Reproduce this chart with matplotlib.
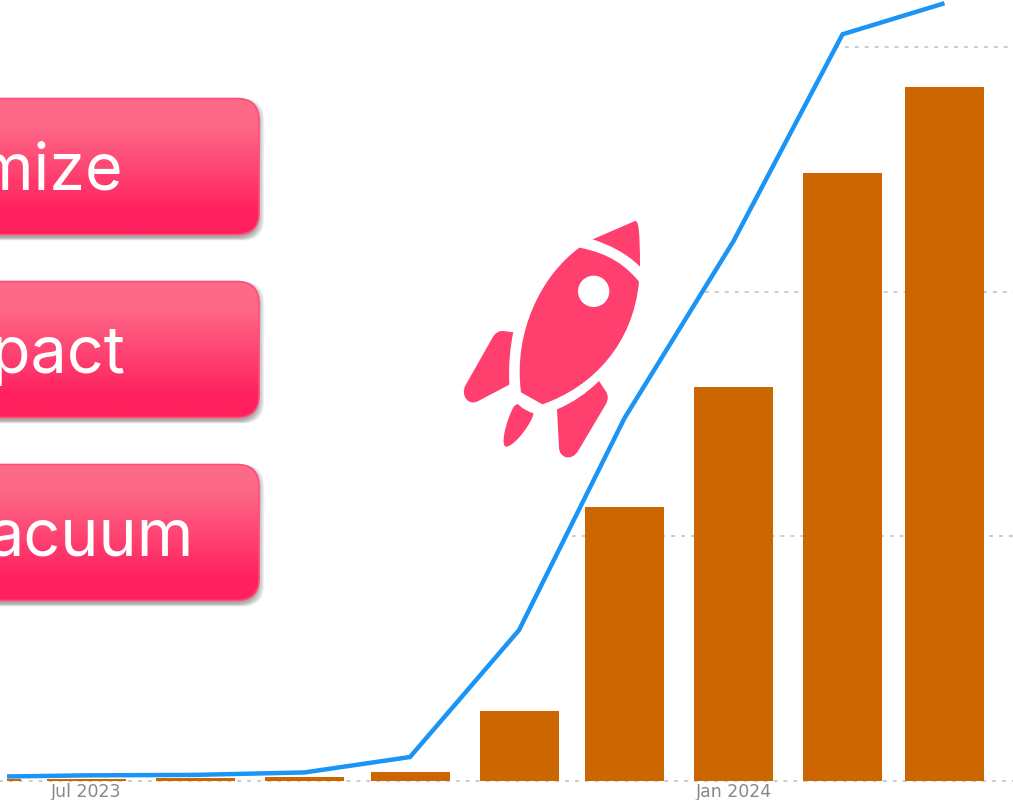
import numpy as np
import pandas as pd
import matplotlib.pyplot as plt
import matplotlib.dates as mdates
from matplotlib.patches import FancyBboxPatch, PathPatch, Circle
from matplotlib.path import Path

months = pd.to_datetime(["2023-06-01", "2023-07-01", "2023-08-01", "2023-09-01", "2023-10-01",
                         "2023-11-01", "2023-12-01", "2024-01-01", "2024-02-01", "2024-03-01"])
bar_values = [0.6, 0.8, 1.2, 1.6, 3.5, 28.4, 111.9, 160.9, 248.5, 283.6]
line_values = [1.5, 2.1, 2.3, 3.3, 9.6, 61.5, 148.2, 220.6, 305.2, 317.9]
grid_levels = [0, 100, 200, 300]
grid_starts = pd.to_datetime(["2023-06-01", "2023-11-16", "2023-12-24", "2024-01-30"])
tick_dates = pd.to_datetime(["2023-07-01", "2024-01-01"])
tick_labels = ["Jul 2023", "Jan 2024"]
button_labels = ["mize", "pact", "acuum"]
button_tops = [98.5, 281.5, 464.5]
label_rights = [123, 125, 194]

W, H = 1013, 800
PINK = "#ff3f6e"


def zoomed(points):
    """Rocket outline was sketched at 3x, scale it down to canvas pixels."""
    return [(450 + x / 3, 210 + y / 3) for x, y in points]


def draw_shape(ax, start, segments):
    """Closed bezier outline: each segment is a list of 1 (line) or 3 (curve) points."""
    verts, codes = [start], [Path.MOVETO]
    for seg in segments:
        verts += seg
        codes += [Path.LINETO] if len(seg) == 1 else [Path.CURVE4] * 3
    verts = zoomed(verts + [start])
    codes.append(Path.CLOSEPOLY)
    ax.add_patch(PathPatch(Path(verts, codes), fc=PINK, ec="none", zorder=5))


def draw_button(ax, top, label, right_edge):
    left, right, height = -40, 259, 136
    # soft shadow, stacked translucent boxes
    for grow in np.linspace(6, 0, 7):
        ax.add_patch(FancyBboxPatch((left, top + 3 - grow / 2), right - left - 1 + grow, height + grow,
                                    boxstyle="round,pad=0,rounding_size=22", fc="#555555", ec="none",
                                    alpha=0.09, zorder=1))
    box = FancyBboxPatch((left, top), right - left, height, boxstyle="round,pad=0,rounding_size=22",
                         fc="none", ec="#ff4d78", lw=1.2, zorder=3)
    ax.add_patch(box)
    stops = np.interp(np.linspace(0, 1, 136), [0, 0.2, 0.85, 1], [0, 0.05, 1, 1])
    top_col, bot_col = np.array([253, 108, 137]) / 255, np.array([255, 32, 94]) / 255
    grad = top_col[None, :] * (1 - stops[:, None]) + bot_col[None, :] * stops[:, None]
    img = ax.imshow(grad[:, None, :], extent=(left, right, top + height, top), aspect="auto", zorder=2,
                    interpolation="bilinear")
    img.set_clip_path(box)
    ax.text(right_edge, top + 91, label, ha="right", va="baseline", color="white", family="Inter",
            fontsize=46.5, fontweight="normal", zorder=4)


fig = plt.figure(figsize=(W / 100, H / 100), dpi=100)

# chart axes, dates on x, baseline sits at y=780.5 px
ax = fig.add_axes([7 / W, (H - 780.5) / H, (W - 7) / W, 780.5 / H])
px_per_day = 647 / 184
jul = mdates.date2num(tick_dates[0])
ax.set_xlim(jul - 79.5 / px_per_day, jul + 926.5 / px_per_day)
ax.set_ylim(0, 780.5 / 2.445)

for level, start in zip(grid_levels, grid_starts):
    ax.hlines(level, mdates.date2num(start), ax.get_xlim()[1], color="#bdbdbd", lw=1.1,
              linestyles=(0, (2.5, 4)), zorder=1, clip_on=False)
ax.bar(months, bar_values, width=79 / px_per_day, color="#cc6600", zorder=2)
ax.plot(months, line_values, color="#1a94f5", lw=3.2, solid_joinstyle="miter", solid_capstyle="butt", zorder=3)

ax.set_xticks(tick_dates)
ax.set_xticklabels(tick_labels, color="#85898d", fontsize=12.5)
ax.tick_params(axis="x", length=0, pad=1.5)
ax.set_yticks([])
for spine in ax.spines.values():
    spine.set_visible(False)
ax.patch.set_alpha(0)

# buttons and rocket live on a pixel-space overlay
over = fig.add_axes([0, 0, 1, 1])
over.axis("off")
over.patch.set_alpha(0)

for top, label, right_edge in zip(button_tops, button_labels, label_rights):
    draw_button(over, top, label, right_edge)
over.set_xlim(0, W)
over.set_ylim(H, 0)

# body
draw_shape(over, (388, 113), [[(480, 130), (530, 170), (567, 215)],
                              [(550, 400), (430, 530), (277, 583)],
                              [(213, 547)],
                              [(190, 370), (270, 200), (388, 113)]])
# nose
draw_shape(over, (428, 88), [[(555, 33)],
                             [(565, 30), (570, 60), (570, 170)],
                             [(530, 130), (480, 105), (428, 88)]])
# left fin
draw_shape(over, (190, 367), [[(160, 363)],
                              [(145, 362), (135, 370), (128, 382)],
                              [(47, 525)],
                              [(30, 555), (55, 590), (85, 573)],
                              [(178, 524)],
                              [(175, 470), (180, 410), (190, 367)]])
# right fin
draw_shape(over, (447, 513), [[(468, 545)],
                              [(476, 558), (474, 570), (468, 582)],
                              [(385, 722)],
                              [(365, 755), (328, 745), (327, 712)],
                              [(321, 598)],
                              [(365, 580), (410, 550), (447, 513)]])
# small centre fin
draw_shape(over, (205, 583), [[(218, 597), (232, 603), (250, 610)],
                              [(253, 625), (200, 705), (170, 710)],
                              [(150, 712), (165, 640), (190, 592)],
                              [(195, 585), (200, 582), (205, 583)]])
over.add_patch(Circle(zoomed([(431, 244)])[0], 47 / 3, fc="white", ec="none", zorder=6))

fig.savefig("out.png", dpi=100)
plt.close(fig)
